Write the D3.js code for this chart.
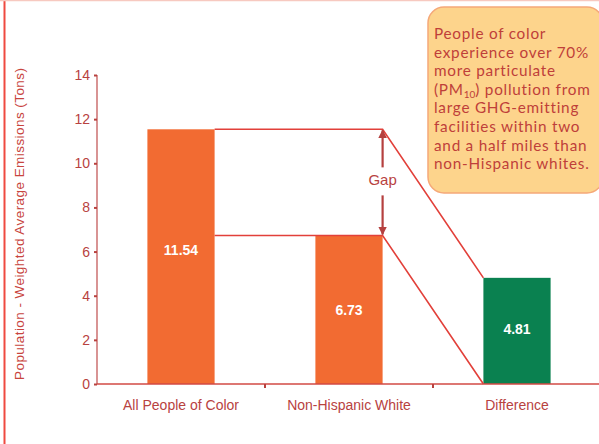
<!DOCTYPE html>
<html>
<head>
<meta charset="utf-8">
<script src="https://cdn.jsdelivr.net/npm/d3@7/dist/d3.min.js"></script>
<style>
  html, body { margin: 0; padding: 0; background: #fff; }
  svg { display: block; }
</style>
</head>
<body>
<svg id="chart" width="599" height="444"></svg>
<script>
// Emissions by group (tons, population-weighted average)
const categories = ["All People of Color", "Non-Hispanic White", "Difference"];
const values = [11.54, 6.73, 4.81];
const barColors = ["#f26b32", "#f26b32", "#0a8150"];
const yTicks = [0, 2, 4, 6, 8, 10, 12, 14];
const yTitle = "Population - Weighted Average Emissions (Tons)";
const gapLabel = "Gap";
const noteLines = [
  ["People of color"],
  ["experience over 70%"],
  ["more particulate"],
  ["(PM", {sub: "10"}, ") pollution from"],
  ["large GHG-emitting"],
  ["facilities within two"],
  ["and a half miles than"],
  ["non-Hispanic whites."]
];

const svg = d3.select("#chart");
const W = 599, H = 444;
const axisColor = "#c45a5a";
const textColor = "#b8423f";
const lineColor = "#e2403a";
const font = "Liberation Sans, Arial, sans-serif";

// outer frame
svg.append("line").attr("x1", 4.5).attr("x2", 4.5).attr("y1", 0).attr("y2", H)
  .attr("stroke", "#ef4a40").attr("stroke-width", 2);
svg.append("line").attr("x1", 0).attr("x2", W).attr("y1", 0.5).attr("y2", 0.5)
  .attr("stroke", "#f7c9c0").attr("stroke-width", 1.5);

const x = d3.scaleBand().domain(categories).range([97, 601]).paddingInner(0.6).paddingOuter(0.3);
const y = d3.scaleLinear().domain([0, 14]).range([384, 75]);

// bars
svg.selectAll("rect.bar").data(categories).join("rect")
  .attr("class", "bar")
  .attr("x", d => x(d))
  .attr("width", x.bandwidth())
  .attr("y", (d, i) => y(values[i]))
  .attr("height", (d, i) => y(0) - y(values[i]))
  .attr("fill", (d, i) => barColors[i]);

// value labels
const labelY = [251, 311, 330];
svg.selectAll("text.val").data(categories).join("text")
  .attr("class", "val")
  .attr("x", d => x(d) + x.bandwidth() / 2)
  .attr("y", (d, i) => labelY[i])
  .attr("text-anchor", "middle")
  .attr("dominant-baseline", "middle")
  .attr("fill", "#fff")
  .attr("font-family", font)
  .attr("font-weight", "bold")
  .attr("font-size", 14)
  .text((d, i) => values[i].toFixed(2));

// connectors from the two group bars to the difference bar
const b1 = categories[0], b2 = categories[1], b3 = categories[2];
const xGap = x(b2) + x.bandwidth();
const conn = svg.append("g").attr("fill", "none").attr("stroke", lineColor).attr("stroke-width", 1.6);
conn.append("polyline").attr("points", [
  [x(b1) + x.bandwidth(), y(values[0])],
  [xGap, y(values[0])],
  [x(b3), y(values[2])]
].join(" "));
conn.append("polyline").attr("points", [
  [x(b1) + x.bandwidth(), y(values[1])],
  [xGap, y(values[1])],
  [x(b3), y(0)]
].join(" "));

// gap arrow
const defs = svg.append("defs");
defs.append("marker").attr("id", "ah").attr("viewBox", "0 0 10 10")
  .attr("refX", 9).attr("refY", 5).attr("markerWidth", 4).attr("markerHeight", 4)
  .attr("orient", "auto-start-reverse")
  .append("path").attr("d", "M0,0 L10,5 L0,10 z").attr("fill", "#b5403f");
svg.append("line")
  .attr("x1", xGap).attr("x2", xGap)
  .attr("y1", y(values[1]) - 1).attr("y2", y(values[0]) + 1)
  .attr("stroke", "#b5403f").attr("stroke-width", 2.2)
  .attr("marker-start", "url(#ah)").attr("marker-end", "url(#ah)");
const gapY = (y(values[0]) + y(values[1])) / 2 - 1;
svg.append("rect").attr("x", xGap - 20).attr("y", gapY - 14).attr("width", 40).attr("height", 28).attr("fill", "#fff");
svg.append("text").attr("x", xGap).attr("y", gapY)
  .attr("text-anchor", "middle").attr("dominant-baseline", "middle")
  .attr("fill", textColor).attr("font-family", font)
  .attr("font-size", 15).text(gapLabel);

// y axis
const yAxis = svg.append("g").attr("transform", "translate(97,0)")
  .call(d3.axisLeft(y).tickValues(yTicks).tickSize(3).tickPadding(4));
yAxis.select(".domain").attr("stroke", axisColor).attr("stroke-width", 1.3).attr("d", `M0,${y(14)}V${y(0)}`);
yAxis.selectAll(".tick line").attr("stroke", textColor).attr("stroke-width", 2);
yAxis.selectAll(".tick text").attr("fill", textColor)
  .attr("font-family", font).attr("font-size", 14);

// x axis
const xAxis = svg.append("g").attr("transform", `translate(0,${y(0)})`)
  .call(d3.axisBottom(x).tickSize(0).tickPadding(16));
xAxis.select(".domain").attr("stroke", "#d24a44").attr("stroke-width", 1.4).attr("d", `M97,0H599`);
xAxis.selectAll(".tick text").attr("fill", textColor)
  .attr("font-family", font).attr("font-size", 14);
// separators between categories
const seps = categories.slice(1).map(c => x(c) - x.step() * x.paddingInner() / 2);
svg.selectAll("line.sep").data(seps).join("line").attr("class", "sep")
  .attr("x1", d => d).attr("x2", d => d).attr("y1", y(0)).attr("y2", y(0) + 4)
  .attr("stroke", textColor).attr("stroke-width", 2);

// y title
svg.append("text")
  .attr("transform", `translate(24,224) rotate(-90)`)
  .attr("text-anchor", "middle")
  .attr("fill", "#c8453e")
  .attr("font-family", font)
  .attr("font-size", 13.5)
  .attr("textLength", 312)
  .attr("lengthAdjust", "spacing")
  .text(yTitle);

// callout
svg.append("rect").attr("x", 428).attr("y", 7).attr("width", 175).attr("height", 186)
  .attr("rx", 16).attr("fill", "#fdd48c").attr("stroke", "#f5a878").attr("stroke-width", 1.5);
const note = svg.append("text").attr("fill", "#bf3f3a")
  .attr("font-family", "Lato, sans-serif").attr("font-size", 15.3)
  .attr("letter-spacing", 0.75);
noteLines.forEach((parts, i) => {
  const line = note.append("tspan").attr("x", 434).attr("y", 39 + i * 18.6);
  let shifted = false;
  parts.forEach(p => {
    if (typeof p === "string") {
      const t = line.append("tspan").text(p);
      if (shifted) { t.attr("dy", -3); shifted = false; }
    } else {
      line.append("tspan").attr("dy", 3).attr("font-size", 10).attr("letter-spacing", 0).text(p.sub);
      shifted = true;
    }
  });
});
</script>
</body>
</html>
